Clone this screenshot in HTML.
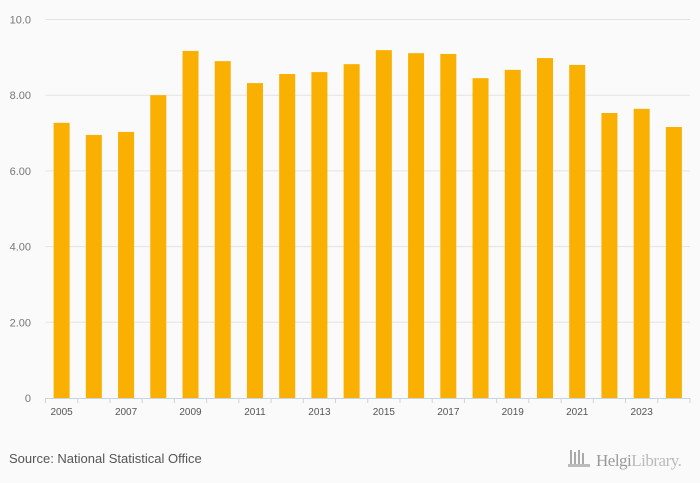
<!DOCTYPE html>
<html><head><meta charset="utf-8"><style>
body{margin:0;background:#fafafa;font-family:"Liberation Sans",sans-serif;}
svg{display:block}
</style></head><body>
<svg width="700" height="483">
<rect width="700" height="483" fill="#fafafa"/>
<g id="grid"></g><g id="bars"></g><g id="axis"></g>
<text x="9" y="463" font-size="13" fill="#555">Source: National Statistical Office</text>
<g>
<rect x="570" y="450" width="2" height="14" fill="#aaa"/><rect x="574" y="452" width="2" height="12" fill="#aaa"/><rect x="578" y="450" width="2" height="14" fill="#aaa"/><rect x="582" y="453" width="2" height="11" fill="#aaa"/><rect x="568" y="464" width="22" height="3" fill="#bbb"/>
<text x="596" y="466" font-size="17" fill="#999" font-family="Liberation Serif,serif" letter-spacing="-0.5">Helgi<tspan fill="#bbb">Library.</tspan></text>
</g>
</svg>
<script>
const years=[2005,2006,2007,2008,2009,2010,2011,2012,2013,2014,2015,2016,2017,2018,2019,2020,2021,2022,2023,2024];
const values=[7.27,6.95,7.03,8.0,9.17,8.9,8.32,8.56,8.61,8.82,9.19,9.11,9.09,8.45,8.67,8.98,8.8,7.53,7.64,7.16];
const ticks=[0,2,4,6,8,10];
const tickLabels=["0","2.00","4.00","6.00","8.00","10.0"];
const NS="http://www.w3.org/2000/svg";
const x0=45.5,x1=690,y0=398,yTop=19.5,maxV=10;
const band=(x1-x0)/years.length;
const y=v=>y0-(y0-yTop)*v/maxV;
const xb=i=>x0+band*i;
function mk(t,a,p){const e=document.createElementNS(NS,t);for(const k in a)e.setAttribute(k,a[k]);p.appendChild(e);return e;}
const g=document.getElementById('grid'),b=document.getElementById('bars'),ax=document.getElementById('axis');
ticks.forEach((t,i)=>{
 if(t>0){const l=mk('line',{x1:x0,x2:x1,y1:y(t),y2:y(t),stroke:'#e3e3e3','stroke-width':1},g);
 
 }
 const tx=mk('text',{x:31,y:y(t)+4,'text-anchor':'end','font-size':11,fill:'#777'},g);
 tx.textContent=tickLabels[i];
 
 
});
values.forEach((v,i)=>{
 const r=mk('rect',{x:xb(i)+band/2-8,y:y(v),width:16,height:y0-y(v),fill:'#f9b000'},b);
 
 
});
const al=mk('line',{x1:x0,x2:x1,y1:y0+0.5,y2:y0+0.5,stroke:'#c8d3e6'},ax);


for(let i=0;i<=years.length;i++){mk('line',{x1:xb(i),x2:xb(i),y1:y0,y2:y0+5,stroke:'#c8d3e6'},ax);}
years.forEach((yr,i)=>{if(i%2===0){
 const t=mk('text',{x:xb(i)+band/2,y:y0+17,'text-anchor':'middle','font-size':10,fill:'#555'},ax);
 t.textContent=yr;
 
 
}});
</script>
</body></html>
